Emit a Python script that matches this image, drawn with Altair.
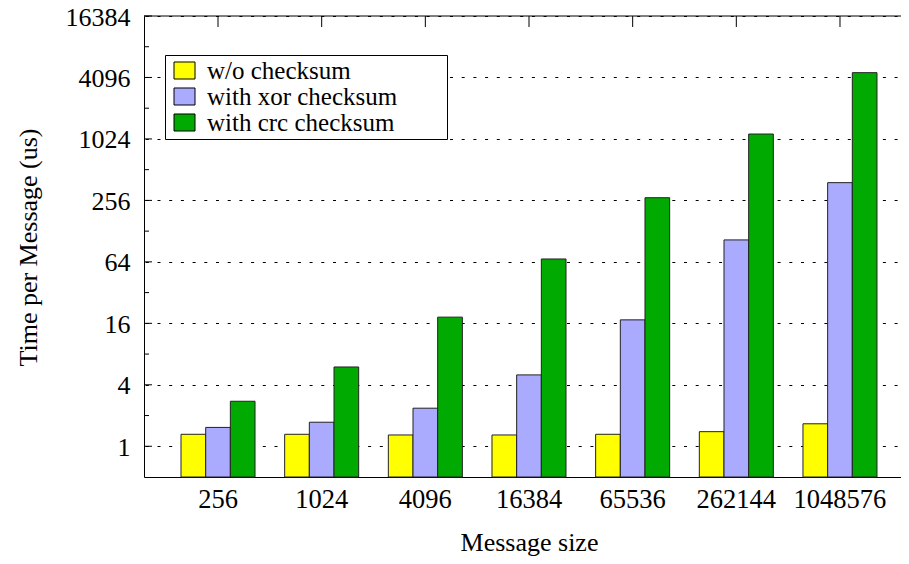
import altair as alt
import pandas as pd

sizes = ["256", "1024", "4096", "16384", "65536", "262144", "1048576"]
series = ["w/o checksum", "with xor checksum", "with crc checksum"]
wo_checksum = [1.31, 1.31, 1.29, 1.29, 1.31, 1.39, 1.66]
xor_checksum = [1.53, 1.72, 2.36, 5.0, 17.3, 105, 382]
crc_checksum = [2.76, 5.98, 18.4, 68.3, 272, 1144, 4566]
colors = ["#ffff00", "#aaaaff", "#00aa00"]
major_ticks = [1, 4, 16, 64, 256, 1024, 4096, 16384]
minor_ticks = [2, 8, 32, 128, 512, 2048, 8192]

rows = []
for s, vals in zip(series, [wo_checksum, xor_checksum, crc_checksum]):
    for size, v in zip(sizes, vals):
        rows.append({"size": size, "series": s, "value": v})
df = pd.DataFrame(rows)

FONT = "Liberation Serif"
W_VIEW = 757
W_RANGE = 770
H = 461

xscale = alt.Scale(range=[0, W_RANGE], paddingInner=0.286, paddingOuter=0.357)
yscale = alt.Scale(type="log", base=2, domain=[0.5, 16384], nice=False)

x_axis = alt.Axis(title="Message size", labelAngle=0, ticks=False, tickSize=0,
                  labelFont=FONT, labelFontSize=26.5, labelColor="black",
                  labelBaseline="alphabetic", labelPadding=30,
                  domainColor="black", domainWidth=1,
                  titleFont=FONT, titleFontSize=26, titleFontWeight="normal",
                  titleColor="black", titleBaseline="alphabetic",
                  titleX=W_RANGE / 2, titleY=73, titleAlign="center")
y_axis = alt.Axis(title="Time per Message (us)", values=major_ticks, format="d",
                  ticks=False, tickSize=0, labelPadding=14, labelOffset=1,
                  labelFont=FONT, labelFontSize=26, labelColor="black",
                  labelBaseline="middle",
                  domainColor="black", domainWidth=1,
                  grid=True, gridColor="black", gridDash=[3, 8.7],
                  gridDashOffset=10.4, gridWidth=1,
                  titleFont=FONT, titleFontSize=26, titleFontWeight="normal",
                  titleColor="black", titleAngle=270, titleBaseline="middle",
                  titleAlign="center", titleX=-116, titleY=231)

bars = alt.Chart(df).mark_bar(stroke="#222222", strokeWidth=1).encode(
    x=alt.X("size:N", sort=sizes, scale=xscale, axis=x_axis),
    xOffset=alt.XOffset("series:N", sort=series,
                        scale=alt.Scale(paddingInner=0, paddingOuter=0)),
    y=alt.Y("value:Q", scale=yscale, axis=y_axis),
    y2=alt.datum(0.5),
    color=alt.Color("series:N", sort=series,
                    scale=alt.Scale(domain=series, range=colors),
                    legend=alt.Legend(title="mmmm", titleOrient="right",
                                      titleFont=FONT, titleFontSize=14,
                                      titleColor="white", titlePadding=0,
                                      orient="none", legendX=21, legendY=39,
                                      fillColor="white", strokeColor="black",
                                      padding=3, symbolOffset=4,
                                      symbolType="M-1,-0.81H1V0.81H-1Z",
                                      symbolSize=441, symbolStrokeColor="black",
                                      symbolStrokeWidth=1, symbolOpacity=1,
                                      labelFont=FONT, labelFontSize=25,
                                      labelColor="black", labelOffset=10,
                                      rowPadding=-1.7, labelLimit=400)),
)


def tick_layer(values, x0, x1):
    return alt.Chart(pd.DataFrame({"value": values})).mark_rule(
        color="black", strokeWidth=1).encode(
        x=alt.value(x0), x2=alt.value(x1),
        y=alt.Y("value:Q", scale=yscale, axis=y_axis),
    )


left_major = tick_layer(major_ticks, 0, 8)
left_minor = tick_layer(minor_ticks, 0, 5)
right_major = tick_layer(major_ticks, W_RANGE - 8, W_RANGE)
right_minor = tick_layer(minor_ticks, W_RANGE - 5, W_RANGE)

top_ticks = alt.Chart(pd.DataFrame({"size": sizes})).mark_rule(
    color="black", strokeWidth=1).encode(
    x=alt.X("size:N", sort=sizes, scale=xscale, axis=x_axis),
    y=alt.value(0), y2=alt.value(11),
)

top_frame = alt.Chart(pd.DataFrame({"a": [0]})).mark_rule(
    color="black", strokeWidth=1).encode(
    x=alt.value(0), x2=alt.value(W_RANGE), y=alt.value(0),
)

chart = alt.layer(
    left_major, left_minor, right_major, right_minor, bars, top_ticks, top_frame
).properties(
    width=W_VIEW, height=H,
    autosize=alt.AutoSizeParams(type="none"),
    padding={"left": 136, "top": 8, "right": 0, "bottom": 79},
    background="white",
).configure_view(stroke=None)

chart.save("out.html", embed_options={"renderer": "svg", "actions": False})
